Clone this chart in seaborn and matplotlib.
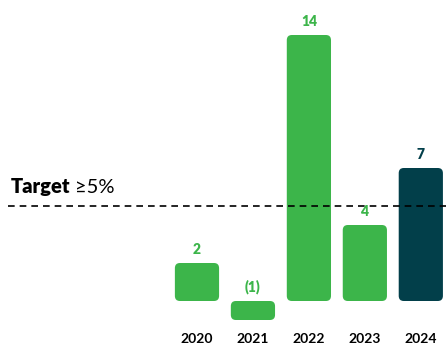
import matplotlib
matplotlib.use("Agg")
import matplotlib.pyplot as plt
import seaborn as sns
import pandas as pd
from matplotlib.patches import FancyBboxPatch

years = ["2020", "2021", "2022", "2023", "2024"]
values = [2, -1, 14, 4, 7]
labels = ["2", "(1)", "14", "4", "7"]
target = 5
target_bold = "Target"
target_rest = "≥5%"

GREEN = "#3cb54a"
DARK = "#023f4a"
colors = [GREEN, GREEN, GREEN, GREEN, DARK]

sns.set_theme(style="white")
plt.rcParams['font.family'] = ['Lato', 'DejaVu Sans']

df = pd.DataFrame({"year": years, "value": values})

fig = plt.figure(figsize=(4.46, 3.46), dpi=100)
ax = fig.add_axes([0, 21/346, 1, 325/346])
sns.barplot(data=df, x="year", y="value", hue="year", palette=colors,
            width=0.79, legend=False, ax=ax, saturation=1)

XMIN, XMAX = -3.52, 4.45
ax.set_xlim(XMIN, XMAX)
ax.set_ylim((301-325)/19, 301/19)

# replace bars with rounded ones
rx = 0.09
ry = 0.27
for p in list(ax.patches):
    x, y = p.get_x(), p.get_y()
    w, h = p.get_width(), p.get_height()
    y0 = min(y, y + h)
    hh = abs(h)
    fc = p.get_facecolor()
    p.remove()
    fb = FancyBboxPatch((x, y0), w, hh,
                        boxstyle=f"round,pad=0,rounding_size={rx}",
                        mutation_aspect=ry/rx, fc=fc, ec="none",
                        clip_on=False)
    ax.add_patch(fb)

for i, (v, lab) in enumerate(zip(values, labels)):
    ax.annotate(lab, xy=(i, max(v, 0)), xytext=(0, 5), textcoords="offset points",
                ha="center", va="bottom", fontsize=10, fontweight="heavy",
                color=colors[i])

ax.axhline(target, xmin=8/446, xmax=1, color="black",
           lw=1.2, ls=(0, (4, 3)))

t = ax.text(11/446, ((346-193) - 21)/325, target_bold, transform=ax.transAxes,
            fontsize=14.5, fontweight="heavy", color="black", va="baseline", ha="left")
ax.annotate(target_rest, xy=(1, 0), xycoords=t, xytext=(3, 0),
            textcoords="offset points", va="bottom", ha="left",
            fontsize=14.5, color="black")

ax.set_xlabel("")
ax.set_ylabel("")
ax.set_yticks([])
ax.tick_params(axis="x", length=0, pad=5.5, labelsize=10)
for lbl in ax.get_xticklabels():
    lbl.set_fontweight("bold")
    lbl.set_color("black")
for s in ax.spines.values():
    s.set_visible(False)

fig.savefig("out.png", dpi=100)
